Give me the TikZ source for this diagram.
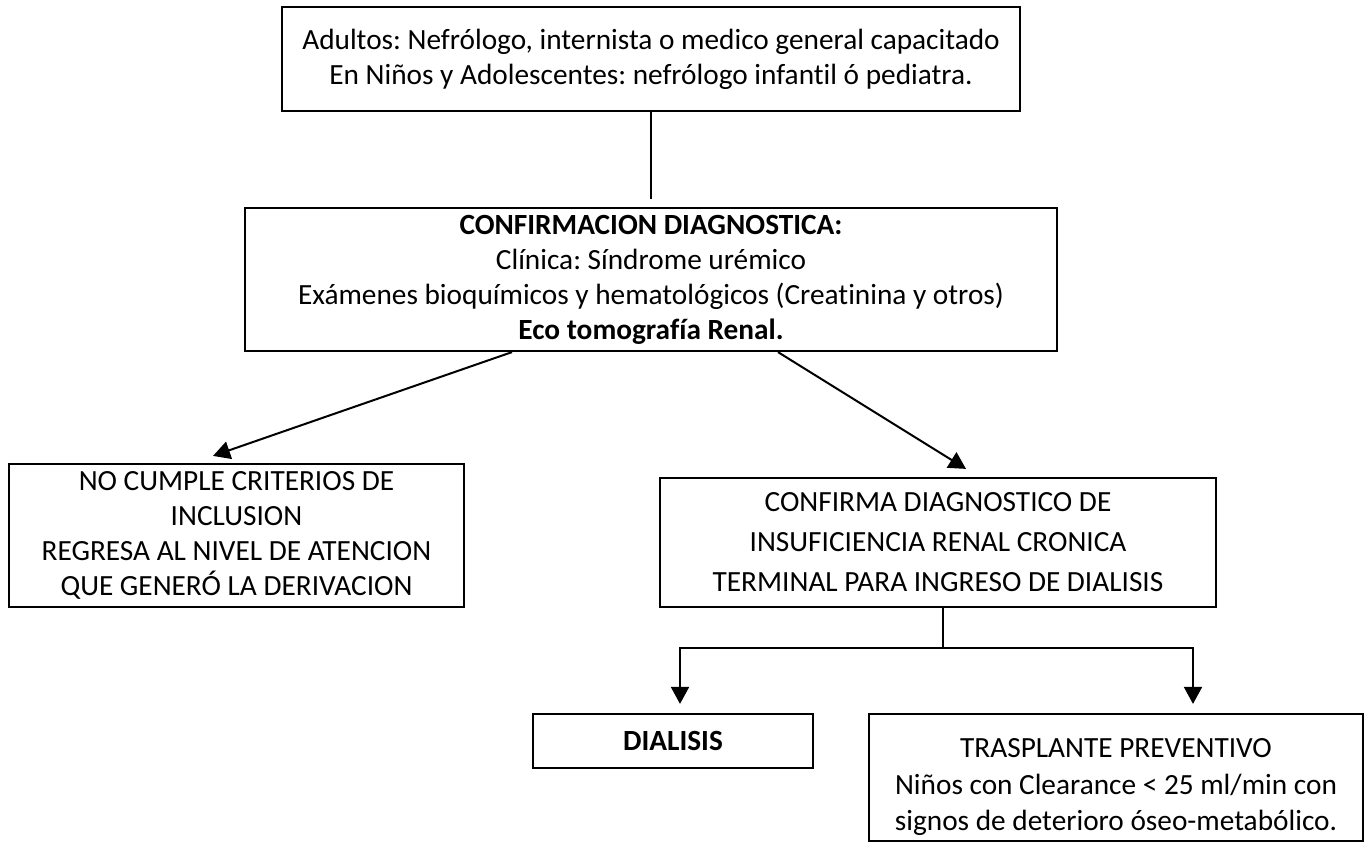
\documentclass[tikz,border=0pt]{standalone}
\usepackage{fontspec}
\setmainfont{Carlito}[Ligatures=NoCommon]
\frenchspacing
\usetikzlibrary{arrows.meta}
\begin{document}
\begin{tikzpicture}[x=1pt,y=-1pt,
  box/.style={draw, line width=2.2pt, align=center, inner sep=0pt,
              font=\fontsize{29.3}{35}\selectfont},
  plain/.style={align=center, inner sep=0pt, font=\fontsize{29.3}{36.5}\selectfont},
  link/.style={line width=2pt},
  arrow/.style={link, -{Triangle[width=18pt,length=17pt]}}]
\useasboundingbox (0,0) rectangle (1371,851);

% Boxes
\node[box, minimum width=738pt, minimum height=104pt] (who) at (651,59)
  {Adultos: Nefrólogo, internista o medico general capacitado\\
   En Niños y Adolescentes: nefrólogo infantil ó pediatra.};

\node[box, minimum width=812pt, minimum height=143pt] (confirm) at (651,279.5)
  {\textbf{CONFIRMACION DIAGNOSTICA:}\\
   Clínica: Síndrome urémico\\
   Exámenes bioquímicos y hematológicos (Creatinina y otros)\\
   \textbf{Eco tomografía Renal.}};

\node[box, minimum width=455pt, minimum height=143pt] (noinc) at (236.5,535.5)
  {NO CUMPLE CRITERIOS DE\\
   INCLUSION\\
   REGRESA AL NIVEL DE ATENCION\\
   QUE GENERÓ LA DERIVACION};

\node[box, minimum width=556pt, minimum height=129pt,
      font=\fontsize{29.3}{40}\selectfont] (irc) at (938,542.5)
  {CONFIRMA DIAGNOSTICO DE\\
   INSUFICIENCIA RENAL CRONICA\\
   TERMINAL PARA INGRESO DE DIALISIS};

\node[box, minimum width=280pt, minimum height=54pt] (dial) at (673,741)
  {\textbf{DIALISIS}};

\node[box, minimum width=494pt, minimum height=127pt] (tras) at (1116,777.5) {};
\node[plain] (trastext) at (1116,787.5)
  {TRASPLANTE PREVENTIVO\\
   Niños con Clearance < 25 ml/min con\\
   signos de deterioro óseo-metabólico.};

% Connectors
\draw[link] (who.south) -- ([yshift=8pt]confirm.north);
\draw[arrow] ([xshift=-139pt]confirm.south) -- ([xshift=-23.5pt,yshift=7pt]noinc.north);
\draw[arrow] ([xshift=127pt]confirm.south) -- ([xshift=28pt,yshift=8pt]irc.north);

\coordinate (fork) at (943,648);
\draw[link] (irc.south -| fork) -- (fork);
\draw[arrow] (fork) -| ([xshift=7pt,yshift=9pt]dial.north);
\draw[arrow] (fork) -| ([xshift=77pt,yshift=9pt]tras.north);
\end{tikzpicture}
\end{document}
